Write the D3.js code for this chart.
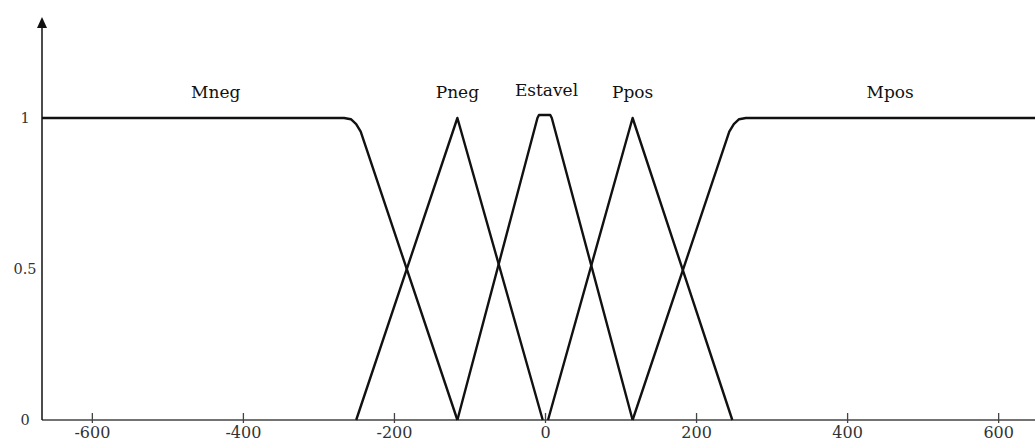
<!DOCTYPE html>
<html>
<head>
<meta charset="utf-8">
<script src="https://cdn.jsdelivr.net/npm/d3@7/dist/d3.min.js"></script>
<style>
  body { margin: 0; background: #fff; }
  svg { display: block; }
</style>
</head>
<body>
<svg id="chart" width="1035" height="441"></svg>
<script>
// conjuntos fuzzy (x, pertinência)
const mneg = [[-666, 1], [-266, 1], [-257, 0.996], [-250, 0.98], [-244, 0.955], [-238, 0.91], [-116, 0]];
const pneg = [[-250, 0], [-116, 1], [-3, 0]];
const estavel = [[-116, 0], [-10, 1.0], [-8, 1.01], [7, 1.01], [9, 1.0], [116, 0]];
const ppos = [[4, 0], [116, 1], [248, 0]];
const mpos = [[116, 0], [238, 0.91], [244, 0.955], [250, 0.98], [257, 0.996], [266, 1], [666, 1]];

const setNames = ['Mneg', 'Pneg', 'Estavel', 'Ppos', 'Mpos'];
const labelX = [-436, -116, 2, 116, 457];
const labelY = [1.066, 1.066, 1.073, 1.066, 1.066];

const xTicks = [-600, -400, -200, 0, 200, 400, 600];
const yTicks = [0, 0.5, 1];

const svg = d3.select('#chart');
const width = +svg.attr('width');
const height = +svg.attr('height');

// escalas
const x = d3.scaleLinear().domain([-666, 666]).range([42, 1048]);
const y = d3.scaleLinear().domain([0, 1]).range([420, 118]);

const serif = '"DejaVu Serif", serif';

// eixo x
const gx = svg.append('g')
  .attr('transform', `translate(0,${y(0)})`)
  .call(d3.axisBottom(x).tickValues(xTicks).tickSize(0).tickFormat(d3.format('d')));
gx.select('.domain').remove();
gx.selectAll('.tick line').attr('y1', -7).attr('y2', 3).attr('stroke', '#444').attr('stroke-width', 1.3);
gx.selectAll('.tick text')
  .attr('y', 17.5).attr('dy', 0)
  .style('font-family', serif).style('font-size', '16px').attr('fill', '#333')
  .text(d => String(d));

svg.append('line')
  .attr('x1', x(-666)).attr('x2', width)
  .attr('y1', y(0)).attr('y2', y(0))
  .attr('stroke', '#444').attr('stroke-width', 1.5);

// eixo y
const gy = svg.append('g')
  .attr('transform', `translate(${x(-666)},0)`)
  .call(d3.axisLeft(y).tickValues(yTicks).tickSize(0).tickFormat(d => String(d)));
gy.select('.domain').remove();
gy.selectAll('.tick text')
  .attr('x', -17).attr('text-anchor', 'middle')
  .style('font-family', serif).style('font-size', '14.5px').attr('fill', '#333');

svg.append('line')
  .attr('x1', x(-666)).attr('x2', x(-666))
  .attr('y1', y(0)).attr('y2', 26)
  .attr('stroke', '#111').attr('stroke-width', 1.5);
svg.append('path')
  .attr('d', `M${x(-666)},17 L${x(-666) - 5},28 L${x(-666) + 5},28 Z`)
  .attr('fill', '#111');

// curvas
const line = d3.line()
  .x(d => x(d[0]))
  .y(d => y(d[1]));

[mneg, pneg, estavel, ppos, mpos].forEach(s => {
  svg.append('path')
    .datum(s)
    .attr('d', line)
    .attr('fill', 'none')
    .attr('stroke', '#111')
    .attr('stroke-width', 2.4)
    .attr('stroke-linejoin', 'round');
});

// rótulos
svg.selectAll('.lbl')
  .data(setNames)
  .join('text')
  .attr('class', 'lbl')
  .attr('x', (d, i) => x(labelX[i]))
  .attr('y', (d, i) => y(labelY[i]))
  .attr('text-anchor', 'middle')
  .style('font-family', serif)
  .style('font-size', '17px')
  .attr('fill', '#111')
  .text(d => d);
</script>
</body>
</html>
